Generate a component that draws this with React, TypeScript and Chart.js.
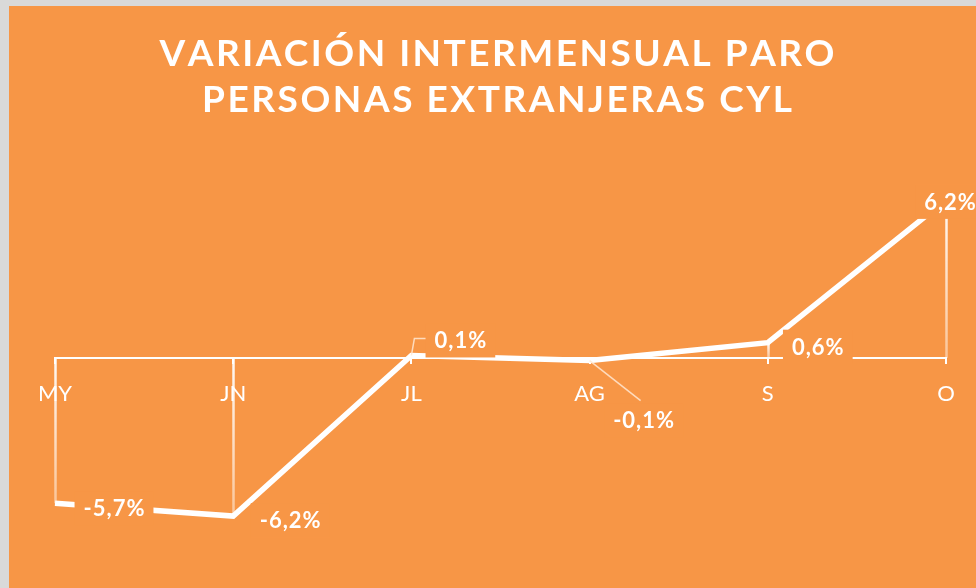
import React, { useEffect, useRef } from 'react';
import { Chart, registerables } from 'chart.js';

Chart.register(...registerables);

// ---- data ----
const TITLE_LINES = ['VARIACIÓN INTERMENSUAL PARO', 'PERSONAS EXTRANJERAS CYL'];
const MONTHS = ['MY', 'JN', 'JL', 'AG', 'S', 'O'];
const VARIATION = [-5.7, -6.2, 0.1, -0.1, 0.6, 6.2];
const Y_MIN = -8;
const Y_MAX = 8;

// ---- label placement (style, relative to each point) ----
const LABEL_DX = [59, 57, 49, 54, 50, 4];
const LABEL_DY = [5, 4, -15, 60, 4, 2];
const LEADER = ['none', 'none', 'left', 'top', 'none', 'none'];

const ORANGE = '#F79646';
const WHITE = '#FFFFFF';

const fmt = (v: number) => v.toFixed(1).replace('.', ',') + '%';

function spacedWidth(ctx: CanvasRenderingContext2D, text: string, spacing: number) {
  const chars = Array.from(text);
  const widths = chars.map((c) => ctx.measureText(c).width);
  return widths.reduce((a, b) => a + b, 0) + spacing * (chars.length - 1);
}

function drawSpaced(ctx: CanvasRenderingContext2D, text: string, cx: number, baseline: number, spacing: number) {
  const chars = Array.from(text);
  const widths = chars.map((c) => ctx.measureText(c).width);
  const total = widths.reduce((a, b) => a + b, 0) + spacing * (chars.length - 1);
  let x = cx - total / 2;
  ctx.textAlign = 'left';
  ctx.textBaseline = 'alphabetic';
  chars.forEach((c, i) => {
    ctx.fillText(c, x, baseline);
    x += widths[i] + spacing;
  });
  return total;
}

const decorPlugin = {
  id: 'decor',
  beforeDatasetsDraw(chart: any) {
    const ctx: CanvasRenderingContext2D = chart.ctx;
    const meta = chart.getDatasetMeta(0);
    const zeroY = chart.scales.y.getPixelForValue(0);
    ctx.save();
    meta.data.forEach((pt: any) => {
      const top = Math.min(pt.y, zeroY);
      const bottom = Math.max(pt.y, zeroY);
      if (bottom - top < 1) return;
      const g = ctx.createLinearGradient(0, top, 0, bottom);
      g.addColorStop(0, 'rgba(255,255,255,0.95)');
      g.addColorStop(1, 'rgba(255,255,255,0.45)');
      ctx.strokeStyle = g;
      ctx.lineWidth = 2.5;
      ctx.beginPath();
      ctx.moveTo(Math.round(pt.x) + 0.5, top);
      ctx.lineTo(Math.round(pt.x) + 0.5, bottom);
      ctx.stroke();
    });
    ctx.restore();
  },
  afterDatasetsDraw(chart: any) {
    const ctx: CanvasRenderingContext2D = chart.ctx;
    const meta = chart.getDatasetMeta(0);
    const fontSize = 22;
    const spacing = 1;
    const halfH = 17;
    const padX = 9;
    ctx.save();
    ctx.font = `bold ${fontSize}px Lato, "Noto Sans", sans-serif`;
    meta.data.forEach((pt: any, i: number) => {
      const text = fmt(VARIATION[i]);
      const w = spacedWidth(ctx, text, spacing);
      const cx = pt.x + LABEL_DX[i];
      const cy = pt.y + LABEL_DY[i];
      const left = cx - w / 2 - padX;
      const top = cy - halfH;
      if (LEADER[i] !== 'none') {
        ctx.strokeStyle = 'rgba(255,232,210,0.85)';
        ctx.lineWidth = 1.5;
        ctx.beginPath();
        if (LEADER[i] === 'left') {
          ctx.moveTo(pt.x, pt.y);
          ctx.lineTo(pt.x + 3, cy - 2);
          ctx.lineTo(left + 1, cy - 2);
        } else {
          ctx.moveTo(pt.x, pt.y);
          ctx.lineTo(cx - 3, top - 3);
        }
        ctx.stroke();
      }
      ctx.fillStyle = ORANGE;
      ctx.fillRect(left, top, w + padX * 2, halfH * 2);
      ctx.fillStyle = WHITE;
      drawSpaced(ctx, text, cx, cy + fontSize * 0.36, spacing);
    });
    ctx.restore();
  },
  afterDraw(chart: any) {
    const ctx: CanvasRenderingContext2D = chart.ctx;
    const cx = 488;
    const baselines = [60, 106];
    const targets = [675, 590];
    ctx.save();
    ctx.fillStyle = WHITE;
    ctx.font = 'bold 37px Lato, "Liberation Sans", sans-serif';
    TITLE_LINES.forEach((line, i) => {
      const chars = Array.from(line);
      const raw = chars.map((c) => ctx.measureText(c).width).reduce((a, b) => a + b, 0);
      const sp = (targets[i] - raw) / (chars.length - 1);
      drawSpaced(ctx, line, cx, baselines[i], sp);
    });
    ctx.restore();
  },
};

export default function App() {
  const ref = useRef<HTMLCanvasElement>(null);

  useEffect(() => {
    if (!ref.current) return;
    const chart = new Chart(ref.current, {
      type: 'line',
      data: {
        labels: MONTHS,
        datasets: [
          {
            data: VARIATION,
            borderColor: WHITE,
            borderWidth: 5.5,
            borderJoinStyle: 'miter',
            pointRadius: 0,
            pointHoverRadius: 0,
            tension: 0,
            fill: false,
          },
        ],
      },
      options: {
        responsive: false,
        animation: false,
        devicePixelRatio: 1,
        events: [],
        layout: { padding: { top: 148, bottom: 26, left: 46, right: 30 } },
        plugins: {
          legend: { display: false },
          tooltip: { enabled: false },
          title: { display: false },
        },
        scales: {
          x: {
            type: 'category',
            position: { y: 0 } as any,
            offset: false,
            border: { display: true, color: WHITE, width: 2 },
            grid: {
              display: true,
              drawOnChartArea: false,
              drawTicks: true,
              tickLength: 5,
              color: WHITE,
              lineWidth: 2,
            },
            ticks: {
              color: WHITE,
              padding: 18,
              autoSkip: false,
              maxRotation: 0,
              font: { family: 'Lato, "Noto Sans", sans-serif', size: 22, weight: 'normal' },
            },
          },
          y: {
            display: false,
            min: Y_MIN,
            max: Y_MAX,
          },
        },
      },
      plugins: [decorPlugin],
    });
    return () => chart.destroy();
  }, []);

  return (
    <div
      style={{
        position: 'fixed',
        left: 0,
        top: 0,
        width: 976,
        height: 588,
        background: '#d9d9d9',
        overflow: 'hidden',
      }}
    >
      <canvas
        ref={ref}
        width={967}
        height={582}
        style={{ position: 'absolute', left: 9, top: 6, width: 967, height: 582, background: ORANGE }}
      />
    </div>
  );
}
